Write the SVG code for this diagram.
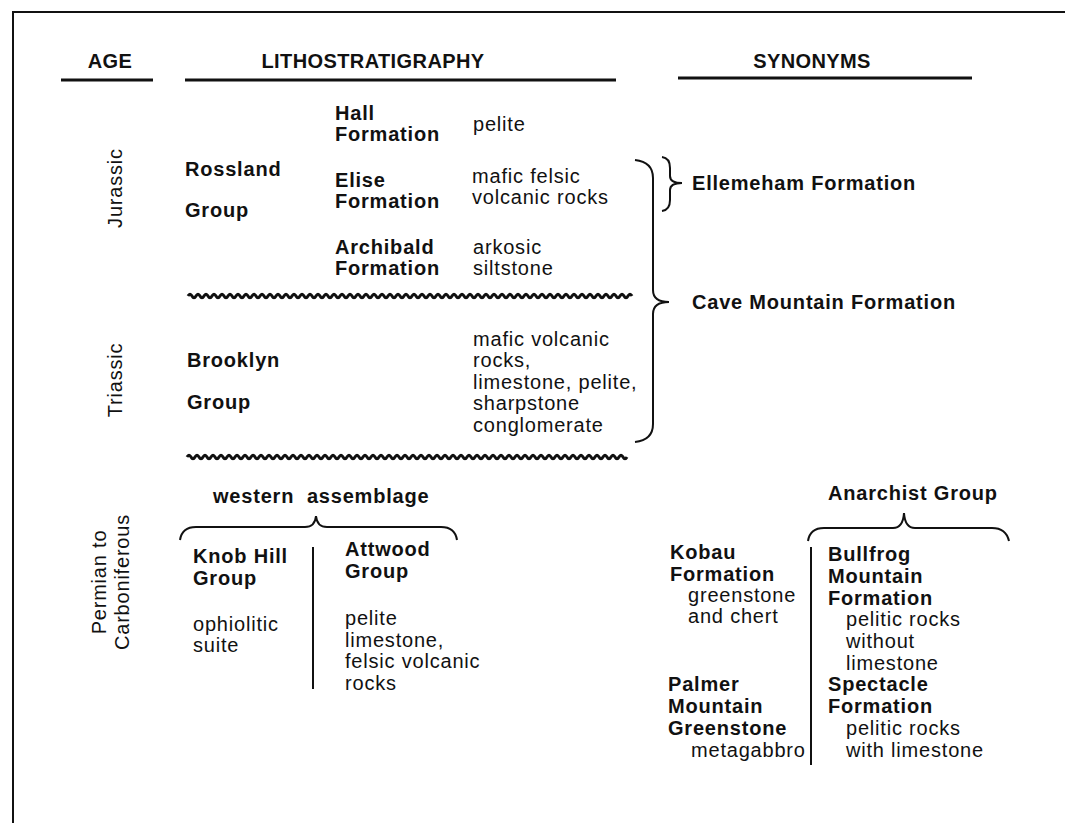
<svg xmlns="http://www.w3.org/2000/svg" width="1065" height="823" viewBox="0 0 1065 823">
<style>
text{font-family:"Liberation Sans",Arial,sans-serif;fill:#111;letter-spacing:0.8px}
.h{font-size:20px;font-weight:bold;letter-spacing:0.4px}
.b{font-size:20px;font-weight:bold}
.r{font-size:20px}
.v{font-size:20px}
.ln{stroke:#111;stroke-width:3;fill:none}
.br{stroke:#111;stroke-width:2;fill:none}
.sep{stroke:#111;stroke-width:2}
.wv{stroke:#111;stroke-width:3;fill:none}
</style>
<rect width="1065" height="823" fill="#fff"/>
<g id="frame">
<line x1="12" y1="12" x2="1065" y2="12" stroke="#111" stroke-width="2"/>
<line x1="13" y1="12" x2="13" y2="823" stroke="#111" stroke-width="2"/>
</g>
<g id="headers">
<text class="h" x="110" y="68" text-anchor="middle">AGE</text>
<line class="ln" x1="61" y1="80" x2="153" y2="80"/>
<text class="h" x="373" y="68" text-anchor="middle">LITHOSTRATIGRAPHY</text>
<line class="ln" x1="185" y1="80" x2="616" y2="80"/>
<text class="h" x="812" y="68" text-anchor="middle">SYNONYMS</text>
<line class="ln" x1="678" y1="78" x2="972" y2="78"/>
</g>
<g id="ages">
<text class="v" transform="translate(122,188) rotate(-90)" text-anchor="middle">Jurassic</text>
<text class="v" transform="translate(122,380) rotate(-90)" text-anchor="middle">Triassic</text>
<text class="v" transform="translate(106,582) rotate(-90)" text-anchor="middle">Permian to</text>
<text class="v" transform="translate(129,582) rotate(-90)" text-anchor="middle">Carboniferous</text>
</g>
<g id="rossland">
<text class="b" x="185" y="176">Rossland</text>
<text class="b" x="185" y="217">Group</text>
</g>
<g id="hall">
<text class="b" x="335" y="120">Hall</text>
<text class="b" x="335" y="141">Formation</text>
<text class="r" x="473" y="131">pelite</text>
</g>
<g id="elise">
<text class="b" x="335" y="187">Elise</text>
<text class="b" x="335" y="208">Formation</text>
<text class="r" x="472" y="183">mafic felsic</text>
<text class="r" x="472" y="204">volcanic rocks</text>
</g>
<g id="archibald">
<text class="b" x="335" y="254">Archibald</text>
<text class="b" x="335" y="275">Formation</text>
<text class="r" x="473" y="254">arkosic</text>
<text class="r" x="473" y="275">siltstone</text>
</g>
<g id="unconformities">
<path class="wv" d="M188,296 q2,-3.5 4,0 t4,0t4,0t4,0t4,0t4,0t4,0t4,0t4,0t4,0t4,0 t4,0t4,0t4,0t4,0t4,0t4,0t4,0t4,0t4,0t4,0 t4,0t4,0t4,0t4,0t4,0t4,0t4,0t4,0t4,0t4,0 t4,0t4,0t4,0t4,0t4,0t4,0t4,0t4,0t4,0t4,0 t4,0t4,0t4,0t4,0t4,0t4,0t4,0t4,0t4,0t4,0 t4,0t4,0t4,0t4,0t4,0t4,0t4,0t4,0t4,0t4,0 t4,0t4,0t4,0t4,0t4,0t4,0t4,0t4,0t4,0t4,0 t4,0t4,0t4,0t4,0t4,0t4,0t4,0t4,0t4,0t4,0 t4,0t4,0t4,0t4,0t4,0t4,0t4,0t4,0t4,0t4,0 t4,0t4,0t4,0t4,0t4,0t4,0t4,0t4,0t4,0t4,0 t4,0t4,0t4,0t4,0t4,0t4,0t4,0t4,0t4,0t4,0"/>
<path class="wv" d="M187,457 q2,-3.5 4,0 t4,0t4,0t4,0t4,0t4,0t4,0t4,0t4,0t4,0t4,0 t4,0t4,0t4,0t4,0t4,0t4,0t4,0t4,0t4,0t4,0 t4,0t4,0t4,0t4,0t4,0t4,0t4,0t4,0t4,0t4,0 t4,0t4,0t4,0t4,0t4,0t4,0t4,0t4,0t4,0t4,0 t4,0t4,0t4,0t4,0t4,0t4,0t4,0t4,0t4,0t4,0 t4,0t4,0t4,0t4,0t4,0t4,0t4,0t4,0t4,0t4,0 t4,0t4,0t4,0t4,0t4,0t4,0t4,0t4,0t4,0t4,0 t4,0t4,0t4,0t4,0t4,0t4,0t4,0t4,0t4,0t4,0 t4,0t4,0t4,0t4,0t4,0t4,0t4,0t4,0t4,0t4,0 t4,0t4,0t4,0t4,0t4,0t4,0t4,0t4,0t4,0t4,0 t4,0t4,0t4,0t4,0t4,0t4,0t4,0t4,0t4,0"/>
</g>
<g id="brooklyn">
<text class="b" x="187" y="367">Brooklyn</text>
<text class="b" x="187" y="409">Group</text>
<text class="r" x="473" y="346">mafic volcanic</text>
<text class="r" x="473" y="367">rocks,</text>
<text class="r" x="473" y="389">limestone, pelite,</text>
<text class="r" x="473" y="410">sharpstone</text>
<text class="r" x="473" y="432">conglomerate</text>
</g>
<g id="connectors">
<path class="br" d="M635,160 Q653,162 653,178 L653,290 Q653,302 669,302 Q653,302 653,314 L653,424 Q653,440 635,442"/>
<path class="br" d="M662,157 Q670,158 670,168 L670,176 Q670,183 682,183 Q670,183 670,190 L670,200 Q670,210 662,211"/>
<path class="br" d="M180,540 Q182,527 196,527 L305,527 Q315,527 316,516 Q317,527 327,527 L441,527 Q455,527 457,540"/>
<path class="br" d="M808,541 Q810,528 824,528 L893,528 Q903,528 904,513 Q905,528 915,528 L992,528 Q1006,528 1009,541"/>
<line class="sep" x1="313" y1="547" x2="313" y2="689"/>
<line class="sep" x1="811" y1="547" x2="811" y2="765"/>
</g>
<g id="ellemeham">
<text class="b" x="692" y="190">Ellemeham Formation</text>
</g>
<g id="cave-mountain">
<text class="b" x="692" y="309">Cave Mountain Formation</text>
</g>
<g id="western">
<text class="b" x="213" y="503" xml:space="preserve">western  assemblage</text>
</g>
<g id="knob-hill">
<text class="b" x="193" y="563">Knob Hill</text>
<text class="b" x="193" y="585">Group</text>
<text class="r" x="193" y="631">ophiolitic</text>
<text class="r" x="193" y="652">suite</text>
</g>
<g id="attwood">
<text class="b" x="345" y="556">Attwood</text>
<text class="b" x="345" y="578">Group</text>
<text class="r" x="345" y="625">pelite</text>
<text class="r" x="345" y="647">limestone,</text>
<text class="r" x="345" y="668">felsic volcanic</text>
<text class="r" x="345" y="690">rocks</text>
</g>
<g id="anarchist">
<text class="b" x="828" y="500">Anarchist Group</text>
</g>
<g id="kobau">
<text class="b" x="670" y="559">Kobau</text>
<text class="b" x="670" y="581">Formation</text>
<text class="r" x="688" y="602">greenstone</text>
<text class="r" x="688" y="623">and chert</text>
</g>
<g id="palmer">
<text class="b" x="668" y="691">Palmer</text>
<text class="b" x="668" y="713">Mountain</text>
<text class="b" x="668" y="735">Greenstone</text>
<text class="r" x="691" y="757">metagabbro</text>
</g>
<g id="bullfrog">
<text class="b" x="828" y="561">Bullfrog</text>
<text class="b" x="828" y="583">Mountain</text>
<text class="b" x="828" y="605">Formation</text>
<text class="r" x="846" y="626">pelitic rocks</text>
<text class="r" x="846" y="648">without</text>
<text class="r" x="846" y="670">limestone</text>
</g>
<g id="spectacle">
<text class="b" x="828" y="691">Spectacle</text>
<text class="b" x="828" y="713">Formation</text>
<text class="r" x="846" y="735">pelitic rocks</text>
<text class="r" x="846" y="757">with limestone</text>
</g>
</svg>
